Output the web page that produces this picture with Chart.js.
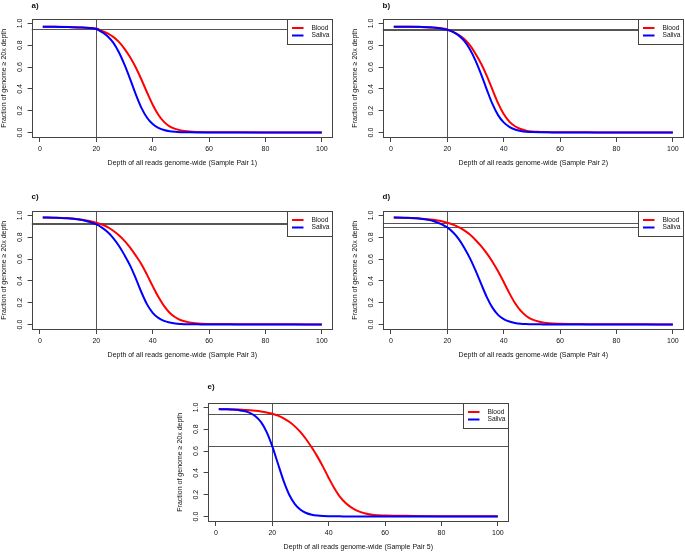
<!DOCTYPE html>
<html><head><meta charset="utf-8">
<script src="https://cdn.jsdelivr.net/npm/chart.js@4/dist/chart.umd.min.js"></script>
<style>
html,body{margin:0;padding:0;background:#fff;overflow:hidden;width:685px;height:553px;position:relative;}
canvas{position:absolute;}
</style></head><body>
<canvas id="ca" width="336" height="180" style="left:0px;top:0px"></canvas>
<canvas id="cb" width="336" height="180" style="left:351px;top:0px"></canvas>
<canvas id="cc" width="336" height="180" style="left:0px;top:192px"></canvas>
<canvas id="cd" width="336" height="180" style="left:351px;top:192px"></canvas>
<canvas id="ce" width="336" height="180" style="left:176px;top:384px"></canvas>
<script>
const FONT = '"Liberation Sans", Arial, Helvetica, sans-serif';

// ---- data ----
const seriesNames = ['Blood', 'Saliva'];
const panelTags = ['a)', 'b)', 'c)', 'd)', 'e)'];
const samplePairs = [1, 2, 3, 4, 5];
const xTicks = [0, 20, 40, 60, 80, 100];
const yTicks = [0, 0.2, 0.4, 0.6, 0.8, 1.0];
const yTickLabels = ['0.0', '0.2', '0.4', '0.6', '0.8', '1.0'];
const refDepth = 20;

const depthAD = [1, 5, 10, 15, 20, 22, 24, 26, 28, 30, 32, 34, 36, 38, 40, 42, 44, 46, 48, 50, 53, 56, 60, 70, 80, 90, 100];
const depthE  = [1, 4, 8, 10, 12, 14, 16, 18, 20, 22, 24, 26, 28, 30, 32, 34, 36, 38, 40, 42, 44, 46, 48, 50, 53, 56, 60, 70, 80, 90, 100];

const bloodA  = [0.970, 0.969, 0.967, 0.962, 0.953, 0.932, 0.908, 0.876, 0.830, 0.767, 0.690, 0.596, 0.486, 0.367, 0.255, 0.163, 0.098, 0.057, 0.034, 0.020, 0.010, 0.006, 0.004, 0.002, 0.001, 0.0005, 0];
const salivaA = [0.970, 0.968, 0.966, 0.962, 0.948, 0.920, 0.882, 0.823, 0.736, 0.622, 0.490, 0.350, 0.226, 0.136, 0.078, 0.043, 0.024, 0.013, 0.007, 0.004, 0.002, 0.001, 0.001, 0.0005, 0.0003, 0.0002, 0];
const bloodB  = [0.970, 0.969, 0.967, 0.961, 0.945, 0.923, 0.896, 0.857, 0.800, 0.722, 0.630, 0.520, 0.394, 0.270, 0.170, 0.101, 0.058, 0.033, 0.018, 0.010, 0.006, 0.004, 0.003, 0.002, 0.001, 0.0005, 0];
const salivaB = [0.970, 0.970, 0.968, 0.963, 0.942, 0.923, 0.890, 0.839, 0.763, 0.659, 0.534, 0.394, 0.262, 0.160, 0.093, 0.052, 0.028, 0.015, 0.008, 0.005, 0.003, 0.002, 0.001, 0.001, 0.0005, 0.0002, 0];
const bloodC  = [0.980, 0.978, 0.973, 0.960, 0.933, 0.916, 0.892, 0.859, 0.818, 0.767, 0.704, 0.631, 0.552, 0.455, 0.352, 0.254, 0.171, 0.109, 0.067, 0.040, 0.020, 0.010, 0.006, 0.004, 0.003, 0.002, 0.001];
const salivaC = [0.981, 0.979, 0.973, 0.957, 0.917, 0.888, 0.847, 0.792, 0.722, 0.636, 0.540, 0.423, 0.296, 0.185, 0.108, 0.061, 0.034, 0.019, 0.010, 0.006, 0.003, 0.002, 0.001, 0.001, 0.0005, 0.0002, 0];
const bloodD  = [0.980, 0.977, 0.972, 0.959, 0.933, 0.915, 0.892, 0.862, 0.824, 0.775, 0.718, 0.652, 0.576, 0.488, 0.390, 0.288, 0.197, 0.127, 0.079, 0.048, 0.024, 0.012, 0.007, 0.004, 0.003, 0.002, 0.001];
const salivaD = [0.980, 0.978, 0.971, 0.949, 0.890, 0.845, 0.785, 0.704, 0.609, 0.496, 0.372, 0.252, 0.155, 0.089, 0.050, 0.028, 0.015, 0.008, 0.005, 0.003, 0.002, 0.001, 0.001, 0.0005, 0.0003, 0.0002, 0];
const bloodE  = [0.983, 0.982, 0.980, 0.977, 0.974, 0.969, 0.962, 0.953, 0.941, 0.924, 0.900, 0.868, 0.826, 0.773, 0.708, 0.632, 0.549, 0.455, 0.354, 0.260, 0.181, 0.125, 0.084, 0.055, 0.029, 0.015, 0.010, 0.006, 0.004, 0.003, 0.002];
const salivaE = [0.984, 0.983, 0.975, 0.967, 0.950, 0.919, 0.865, 0.774, 0.643, 0.484, 0.327, 0.200, 0.114, 0.062, 0.033, 0.017, 0.009, 0.005, 0.003, 0.002, 0.002, 0.001, 0.001, 0.001, 0.001, 0.001, 0.001, 0.0005, 0.0003, 0.0002, 0];

// fraction at 20x for each sample (horizontal reference lines)
const refA = [0.953, 0.948];
const refB = [0.945, 0.942];
const refC = [0.933, 0.917];
const refD = [0.933, 0.890];
const refE = [0.941, 0.643];

// ---- drawing ----
const rPlot = {
  id: 'rPlot',
  beforeDatasetsDraw(chart, args, o) {
    const {ctx, chartArea: a, scales: {x, y}} = chart;
    ctx.save();
    ctx.beginPath(); ctx.rect(a.left, a.top, a.right - a.left, a.bottom - a.top); ctx.clip();
    ctx.strokeStyle = '#555'; ctx.lineWidth = 1;
    o.hLines.forEach(v => {
      const py = Math.round(y.getPixelForValue(v)) + 0.5;
      ctx.beginPath(); ctx.moveTo(a.left, py); ctx.lineTo(a.right, py); ctx.stroke();
    });
    const px = Math.round(x.getPixelForValue(o.vLine)) + 0.5;
    ctx.beginPath(); ctx.moveTo(px, a.top); ctx.lineTo(px, a.bottom); ctx.stroke();
    ctx.restore();
  },
  afterDraw(chart, args, o) {
    const {ctx, chartArea: a, scales: {y}} = chart;
    ctx.save();
    // y tick labels (rotated, R style)
    ctx.fillStyle = '#111';
    ctx.font = '7px ' + FONT;
    ctx.textAlign = 'center'; ctx.textBaseline = 'middle';
    yTicks.forEach((v, i) => {
      ctx.save();
      ctx.translate(a.left - 11.5, y.getPixelForValue(v));
      ctx.rotate(-Math.PI / 2);
      ctx.fillText(yTickLabels[i], 0, 0);
      ctx.restore();
    });
    // box
    ctx.strokeStyle = '#444'; ctx.lineWidth = 1;
    const L = Math.round(a.left) + 0.5, T = Math.round(a.top) + 0.5;
    const R = Math.round(a.right) - 0.5, B = Math.round(a.bottom) - 0.5;
    ctx.strokeRect(L, T, R - L, B - T);
    // legend
    const lw = 45, lh = 25;
    const lx = R - lw, ly = T;
    ctx.fillStyle = '#fff'; ctx.fillRect(lx, ly, lw, lh);
    ctx.strokeRect(lx, ly, lw, lh);
    ctx.font = '6.6px ' + FONT;
    ctx.textAlign = 'left';
    chart.data.datasets.forEach((ds, i) => {
      const yy = ly + 8.5 + i * 7.5;
      ctx.strokeStyle = ds.borderColor; ctx.lineWidth = 2;
      ctx.beginPath(); ctx.moveTo(lx + 4.5, yy); ctx.lineTo(lx + 16, yy); ctx.stroke();
      ctx.fillStyle = '#111';
      ctx.fillText(ds.label, lx + 24, yy);
    });
    // panel tag
    ctx.fillStyle = '#111';
    ctx.font = 'bold 8px ' + FONT;
    ctx.textAlign = 'left'; ctx.textBaseline = 'middle';
    ctx.fillText(o.tag, a.left, o.tagY);
    ctx.restore();
  }
};

function pts(xs, ys) { return xs.map((d, i) => ({x: d, y: ys[i]})); }

function makePanel(id, idx, xs, blood, saliva, ref, tagY) {
  new Chart(document.getElementById(id), {
    type: 'line',
    data: {
      datasets: [
        {label: seriesNames[0], data: pts(xs, blood), borderColor: '#FF0000', borderWidth: 2, pointRadius: 0, cubicInterpolationMode: 'monotone', fill: false, order: 2},
        {label: seriesNames[1], data: pts(xs, saliva), borderColor: '#0000FF', borderWidth: 2, pointRadius: 0, cubicInterpolationMode: 'monotone', fill: false, order: 1}
      ]
    },
    options: {
      responsive: false, animation: false, devicePixelRatio: 1,
      layout: {padding: {left: 0, right: 3, top: 19, bottom: 0}},
      plugins: {
        legend: {display: false}, tooltip: {enabled: false},
        rPlot: {hLines: ref, vLine: refDepth, tag: panelTags[idx], tagY: tagY}
      },
      scales: {
        x: {
          type: 'linear', min: -2.96, max: 103.96,
          afterBuildTicks: s => { s.ticks = xTicks.map(v => ({value: v})); },
          afterFit: s => { s.height = 42.5; },
          grid: {display: true, drawOnChartArea: false, drawTicks: true, tickLength: 4.5, color: '#444', lineWidth: 1},
          border: {display: false},
          ticks: {font: {family: FONT, size: 7}, color: '#111', padding: 3, maxRotation: 0, autoSkip: false, callback: v => String(v)},
          title: {display: true, text: 'Depth of all reads genome-wide (Sample Pair ' + samplePairs[idx] + ')', font: {family: FONT, size: 7}, color: '#111', padding: {top: 0, bottom: 12.8}}
        },
        y: {
          type: 'linear', min: -0.045, max: 1.04,
          afterBuildTicks: s => { s.ticks = yTicks.map(v => ({value: v})); },
          afterFit: s => { s.width = 31.6; },
          grid: {display: true, drawOnChartArea: false, drawTicks: true, tickLength: 4, color: '#444', lineWidth: 1},
          border: {display: false},
          ticks: {display: false},
          title: {display: true, text: 'Fraction of genome \u2265 20x depth', font: {family: FONT, size: 7}, color: '#111', padding: {top: 0, bottom: 0}}
        }
      }
    },
    plugins: [rPlot]
  });
}

makePanel('ca', 0, depthAD, bloodA, salivaA, refA, 6);
makePanel('cb', 1, depthAD, bloodB, salivaB, refB, 6);
makePanel('cc', 2, depthAD, bloodC, salivaC, refC, 5);
makePanel('cd', 3, depthAD, bloodD, salivaD, refD, 5);
makePanel('ce', 4, depthE, bloodE, salivaE, refE, 3);
</script>
</body></html>
